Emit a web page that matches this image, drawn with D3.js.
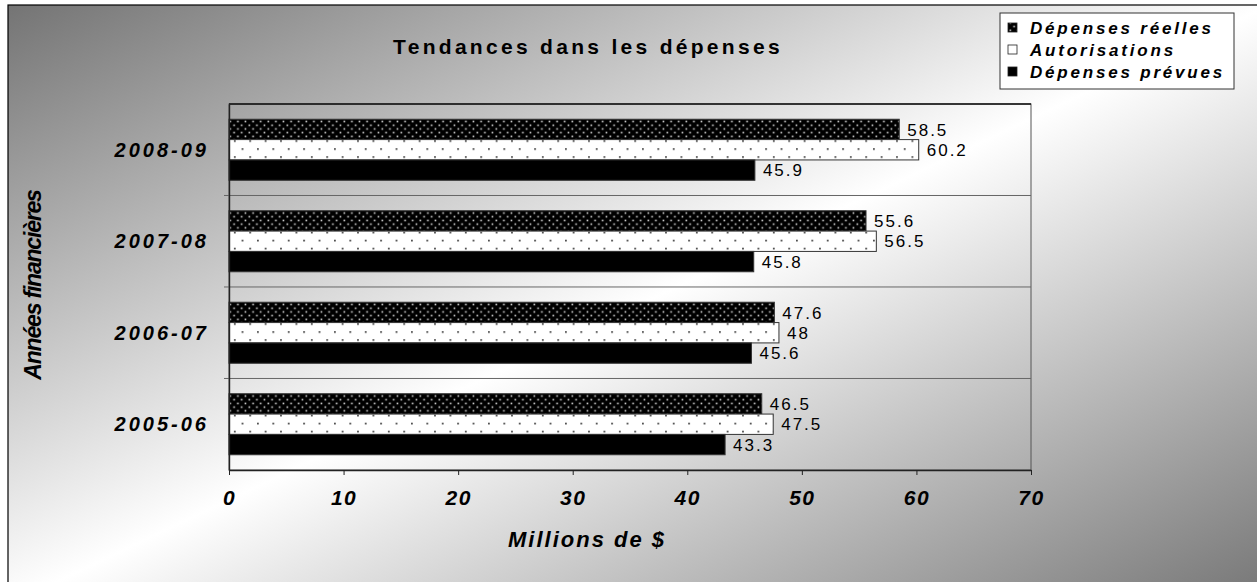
<!DOCTYPE html>
<html>
<head>
<meta charset="utf-8">
<script src="https://cdn.jsdelivr.net/npm/d3@7"></script>
<style>
    body { margin: 0; background: #fff; }
    text { font-family: Arial, "Liberation Sans", sans-serif; fill: #000; }
</style>
</head>
<body>
<script>
// data
const years = ["2008-09", "2007-08", "2006-07", "2005-06"];
const seriesNames = ["Dépenses réelles", "Autorisations", "Dépenses prévues"];
const reelles = [58.5, 55.6, 47.6, 46.5];
const autorisations = [60.2, 56.5, 48, 47.5];
const prevues = [45.9, 45.8, 45.6, 43.3];
const xTicks = [0, 10, 20, 30, 40, 50, 60, 70];

const width = 1257, height = 582;
const plot = { left: 229, top: 104, right: 1031, bottom: 470 };

const svg = d3.select("body").append("svg")
    .attr("width", width)
    .attr("height", height);

const defs = svg.append("defs");

// background gradient, dark corners top-left / bottom-right
const bg = defs.append("linearGradient").attr("id", "bg")
    .attr("x1", 0).attr("y1", 0).attr("x2", 1).attr("y2", 1);
bg.append("stop").attr("offset", 0).attr("stop-color", "#747474");
bg.append("stop").attr("offset", 0.5).attr("stop-color", "#ffffff");
bg.append("stop").attr("offset", 1).attr("stop-color", "#747474");

// dense white dots on black
const p1 = defs.append("pattern").attr("id", "dense")
    .attr("patternUnits", "userSpaceOnUse").attr("width", 7.6).attr("height", 7.4);
p1.append("rect").attr("width", 7.6).attr("height", 7.4).attr("fill", "#000");
p1.append("rect").attr("x", 1.5).attr("y", 1.5).attr("width", 1.6).attr("height", 1.6).attr("fill", "#d8d8d8");
p1.append("rect").attr("x", 5.3).attr("y", 5.2).attr("width", 1.6).attr("height", 1.6).attr("fill", "#d8d8d8");

// sparse black dots on white
const p2 = defs.append("pattern").attr("id", "sparse")
    .attr("patternUnits", "userSpaceOnUse").attr("width", 15.4).attr("height", 16);
p2.append("rect").attr("width", 15.4).attr("height", 16).attr("fill", "#fff");
p2.append("rect").attr("x", 3).attr("y", 5).attr("width", 1.6).attr("height", 1.6).attr("fill", "#222");
p2.append("rect").attr("x", 10.7).attr("y", 13).attr("width", 1.6).attr("height", 1.6).attr("fill", "#222");

const fills = ["url(#dense)", "url(#sparse)", "#000"];

// chart area
svg.append("rect")
    .attr("x", 8).attr("y", 5)
    .attr("width", 1262).attr("height", 600)
    .attr("fill", "url(#bg)")
    .attr("stroke", "#000").attr("stroke-width", 1.2);

// scales
const x = d3.scaleLinear().domain([0, 70]).range([plot.left, plot.right]);
const y = d3.scaleBand().domain(years).range([plot.top, plot.bottom])
    .paddingInner(0.333).paddingOuter(0.1667);
const ySub = d3.scaleBand().domain(seriesNames).range([0, y.bandwidth()]);

// plot border + category separators
svg.append("rect")
    .attr("x", plot.left).attr("y", plot.top)
    .attr("width", plot.right - plot.left).attr("height", plot.bottom - plot.top)
    .attr("fill", "none").attr("stroke", "#555").attr("stroke-width", 1);
svg.append("line")
    .attr("x1", plot.left).attr("x2", plot.right)
    .attr("y1", plot.top).attr("y2", plot.top)
    .attr("stroke", "#111").attr("stroke-width", 1.4);

const bounds = d3.range(1, years.length).map(k => plot.top + k * y.step());
svg.selectAll(".sep").data(bounds).enter().append("line")
    .attr("class", "sep")
    .attr("x1", plot.left - 5).attr("x2", plot.right)
    .attr("y1", d => d).attr("y2", d => d)
    .attr("stroke", "#666").attr("stroke-width", 1);

// bars
const rows = years.map((yr, i) => ({ year: yr, vals: [reelles[i], autorisations[i], prevues[i]] }));
const groups = svg.selectAll(".grp").data(rows).enter().append("g")
    .attr("class", "grp")
    .attr("transform", d => "translate(0," + y(d.year) + ")");

groups.selectAll("rect").data(d => d.vals.map((v, j) => ({ v: v, s: seriesNames[j], j: j })))
    .enter().append("rect")
    .attr("x", x(0))
    .attr("y", d => ySub(d.s))
    .attr("width", d => x(d.v) - x(0))
    .attr("height", ySub.bandwidth())
    .attr("fill", d => fills[d.j])
    .attr("stroke", "#333").attr("stroke-width", 1);

groups.selectAll(".val").data(d => d.vals.map((v, j) => ({ v: v, s: seriesNames[j] })))
    .enter().append("text")
    .attr("class", "val")
    .attr("x", d => x(d.v) + 8)
    .attr("y", d => ySub(d.s) + ySub.bandwidth() / 2)
    .attr("dy", "0.36em")
    .style("font-size", "17px")
    .style("letter-spacing", "2px")
    .text(d => d.v);

// x axis
const xAxis = svg.append("g")
    .attr("transform", "translate(0," + plot.bottom + ")")
    .call(d3.axisBottom(x).tickValues(xTicks).tickSize(5).tickSizeOuter(0));
xAxis.select(".domain").attr("stroke", "#222").attr("stroke-width", 1.4);
xAxis.selectAll(".tick line").attr("stroke", "#222");
xAxis.selectAll("text")
    .attr("y", 35).attr("dy", 0)
    .style("font-size", "21px").style("font-weight", "bold").style("font-style", "italic")
    .style("letter-spacing", "1.5px")
    .attr("fill", "#000");

// y axis
const yAxis = svg.append("g")
    .attr("transform", "translate(" + plot.left + ",0)")
    .call(d3.axisLeft(y).tickSize(0).tickPadding(20));
yAxis.select(".domain").attr("stroke", "#222").attr("stroke-width", 1.4);
yAxis.selectAll("text")
    .attr("dy", "0.36em")
    .style("font-size", "20px").style("font-weight", "bold").style("font-style", "italic")
    .style("letter-spacing", "3px")
    .attr("fill", "#000");

// title and axis titles
svg.append("text")
    .attr("x", 588).attr("y", 54)
    .attr("text-anchor", "middle")
    .style("font-size", "21px").style("font-weight", "bold")
    .style("letter-spacing", "3.3px")
    .text("Tendances dans les dépenses");

svg.append("text")
    .attr("x", 587).attr("y", 547)
    .attr("text-anchor", "middle")
    .style("font-size", "22px").style("font-weight", "bold").style("font-style", "italic")
    .style("letter-spacing", "2px")
    .text("Millions de $");

svg.append("text")
    .attr("transform", "translate(41,285) rotate(-90)")
    .attr("text-anchor", "middle")
    .style("font-size", "23px").style("font-weight", "bold").style("font-style", "italic")
    .style("letter-spacing", "-1.2px")
    .text("Années financières");

// legend
const legend = svg.append("g").attr("transform", "translate(1000,13)");
legend.append("rect")
    .attr("width", 234).attr("height", 76)
    .attr("fill", "#fff").attr("stroke", "#333").attr("stroke-width", 1);
const items = legend.selectAll(".item").data(seriesNames).enter().append("g")
    .attr("class", "item")
    .attr("transform", (d, i) => "translate(8," + (15 + i * 22) + ")");
items.append("rect")
    .attr("y", -5).attr("width", 9).attr("height", 9)
    .attr("fill", (d, i) => fills[i])
    .attr("stroke", "#222").attr("stroke-width", 0.8);
items.append("text")
    .attr("x", 22).attr("dy", "0.36em")
    .style("font-size", "17px").style("font-weight", "bold").style("font-style", "italic")
    .style("letter-spacing", "2.8px")
    .text(d => d);
</script>
</body>
</html>
